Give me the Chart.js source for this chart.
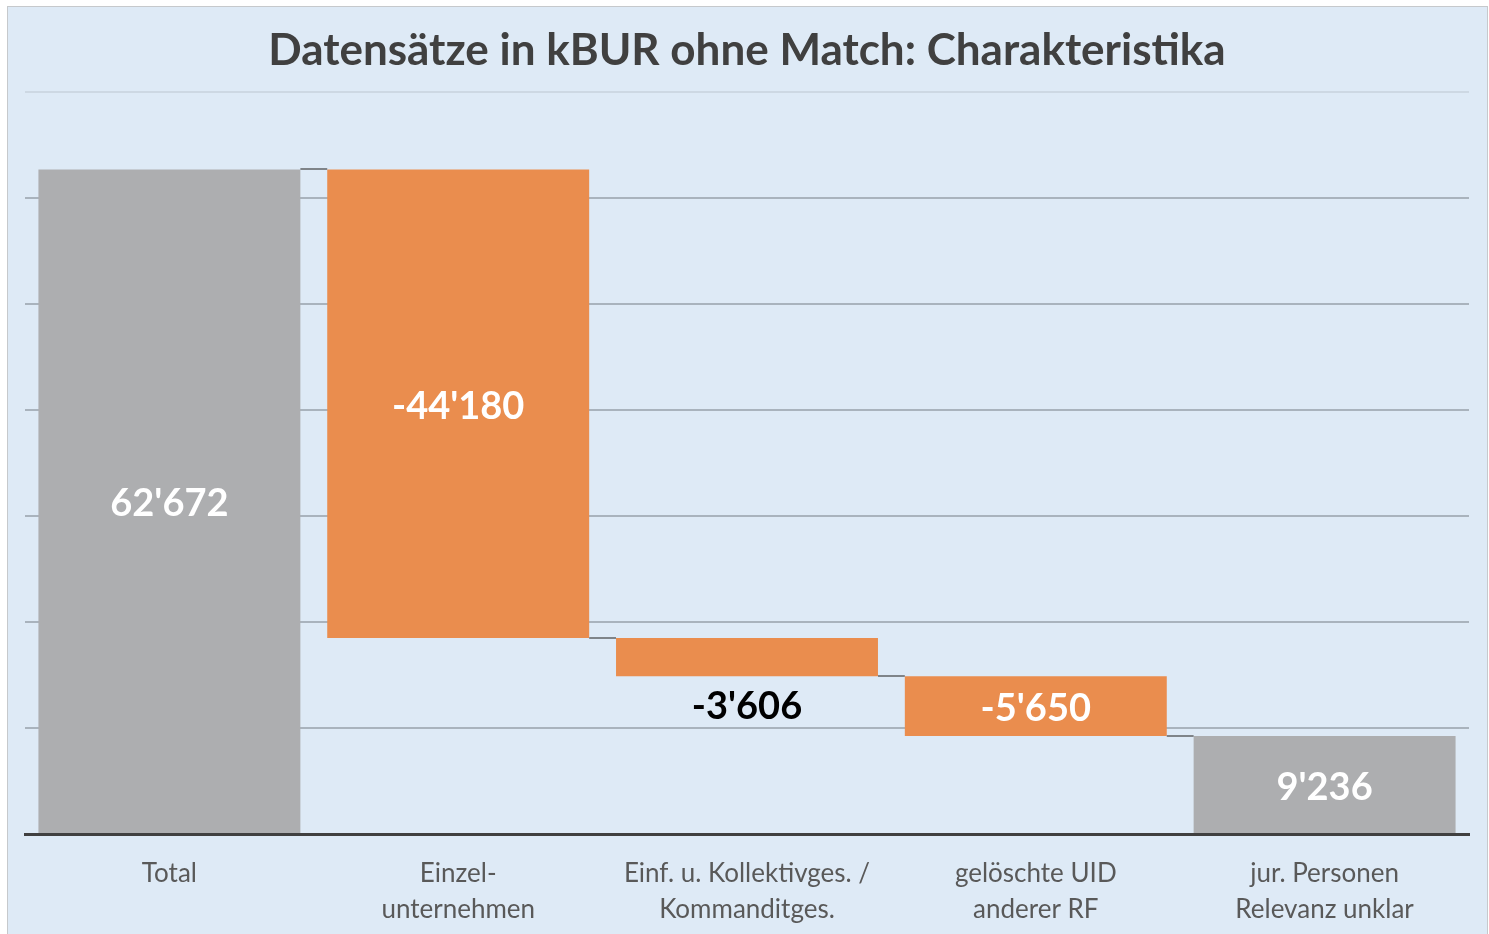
<!DOCTYPE html>
<html>
<head>
<meta charset="utf-8">
<script src="https://cdn.jsdelivr.net/npm/chart.js@4.4.0/dist/chart.umd.min.js"></script>
<style>
  html, body { margin: 0; padding: 0; background: #ffffff; }
  #frame {
    position: absolute; left: 7px; top: 6px; width: 1479px; height: 940px;
    background: #deeaf6; border: 1px solid #c6c9cc;
  }
  #wrap { position: absolute; left: 0; top: 0; width: 1489px; height: 934px; }
</style>
</head>
<body>
<div id="frame"></div>
<div id="wrap"><canvas id="myChart"></canvas></div>
<script>
// categories (two-line labels)
var categories = [
  ['Total'],
  ['Einzel-', 'unternehmen'],
  ['Einf. u. Kollektivges. /', 'Kommanditges.'],
  ['gelöschte UID', 'anderer RF'],
  ['jur. Personen', 'Relevanz unklar']
];
// changes per step; 'total' bars start at zero
var values = [62672, -44180, -3606, -5650, 9236];
var isTotal = [true, false, false, false, true];
var yTicks = [0, 10000, 20000, 30000, 40000, 50000, 60000, 70000];

var GREY = '#adaeb0';
var ORANGE = '#ea8d4e';
var FONT = 'Lato, "Open Sans", sans-serif';

// floating bars built from the running total
var bars = [];
var running = 0;
values.forEach(function(v, i) {
  if (isTotal[i]) {
    bars.push([0, v]);
    running = v;
  } else {
    bars.push([running + v, running]);
    running = running + v;
  }
});

function fmt(n) {
  var s = Math.abs(n).toString().replace(/\B(?=(\d{3})+(?!\d))/g, "'");
  return (n < 0 ? '-' : '') + s;
}

// thin connectors between consecutive bars
var connectors = {
  id: 'connectors',
  afterDatasetsDraw: function(chart) {
    var ctx = chart.ctx;
    var meta = chart.getDatasetMeta(0);
    var y = chart.scales.y;
    var level = 0;
    ctx.save();
    ctx.strokeStyle = '#7f8489';
    ctx.lineWidth = 2;
    for (var i = 0; i < values.length - 1; i++) {
      level = isTotal[i] ? values[i] : level + values[i];
      var a = meta.data[i], b = meta.data[i + 1];
      var py = Math.round(y.getPixelForValue(level));
      ctx.beginPath();
      ctx.moveTo(a.x + a.width / 2, py);
      ctx.lineTo(b.x - b.width / 2, py);
      ctx.stroke();
    }
    ctx.restore();
  }
};

// value labels: inside the bar, or below it when the bar is too thin
var valueLabels = {
  id: 'valueLabels',
  afterDatasetsDraw: function(chart) {
    var ctx = chart.ctx;
    var meta = chart.getDatasetMeta(0);
    ctx.save();
    ctx.font = 'bold 38px ' + FONT;
    ctx.textAlign = 'center';
    ctx.textBaseline = 'middle';
    meta.data.forEach(function(bar, i) {
      var top = Math.min(bar.y, bar.base), bottom = Math.max(bar.y, bar.base);
      var h = bottom - top;
      if (h < 50) {
        ctx.fillStyle = '#000000';
        ctx.fillText(fmt(values[i]), bar.x, bottom + 31);
      } else {
        ctx.fillStyle = '#ffffff';
        ctx.fillText(fmt(values[i]), bar.x, (top + bottom) / 2 + 3);
      }
    });
    ctx.restore();
  }
};

var ctx = document.getElementById('myChart').getContext('2d');
var chart = new Chart(ctx, {
  type: 'bar',
  data: {
    labels: categories,
    datasets: [{
      data: bars,
      backgroundColor: isTotal.map(function(t) { return t ? GREY : ORANGE; }),
      borderWidth: 0,
      categoryPercentage: 1,
      barPercentage: 0.907
    }]
  },
  options: {
    responsive: true,
    maintainAspectRatio: false,
    animation: false,
    layout: { padding: { left: 25, right: 20, bottom: 0 } },
    plugins: {
      legend: { display: false },
      tooltip: { enabled: false },
      title: {
        display: true,
        text: 'Datensätze in kBUR ohne Match: Charakteristika',
        color: '#404040',
        font: { family: FONT, size: 44, weight: 'bold', lineHeight: 1.2 },
        padding: { top: 24, bottom: 15 }
      }
    },
    scales: {
      x: {
        grid: { display: false, drawTicks: false },
        border: { display: true, color: '#404040', width: 3 },
        afterFit: function(scale) { scale.height = 100; },
        ticks: {
          color: '#595959',
          font: { family: FONT, size: 26, lineHeight: 1.385 },
          padding: 22,
          maxRotation: 0,
          autoSkip: false
        }
      },
      y: {
        min: 0,
        max: 70000,
        afterBuildTicks: function(scale) {
          scale.ticks = yTicks.map(function(v) { return { value: v }; });
        },
        afterFit: function(scale) { scale.width = 0; },
        ticks: { display: false },
        border: { display: false },
        grid: {
          drawTicks: false,
          lineWidth: 2,
          color: function(c) {
            if (c.tick.value === 0) return 'rgba(0,0,0,0)';
            if (c.tick.value === 70000) return '#cdd8e3';
            return '#a9b3bd';
          }
        }
      }
    }
  },
  plugins: [connectors, valueLabels]
});
</script>
</body>
</html>
